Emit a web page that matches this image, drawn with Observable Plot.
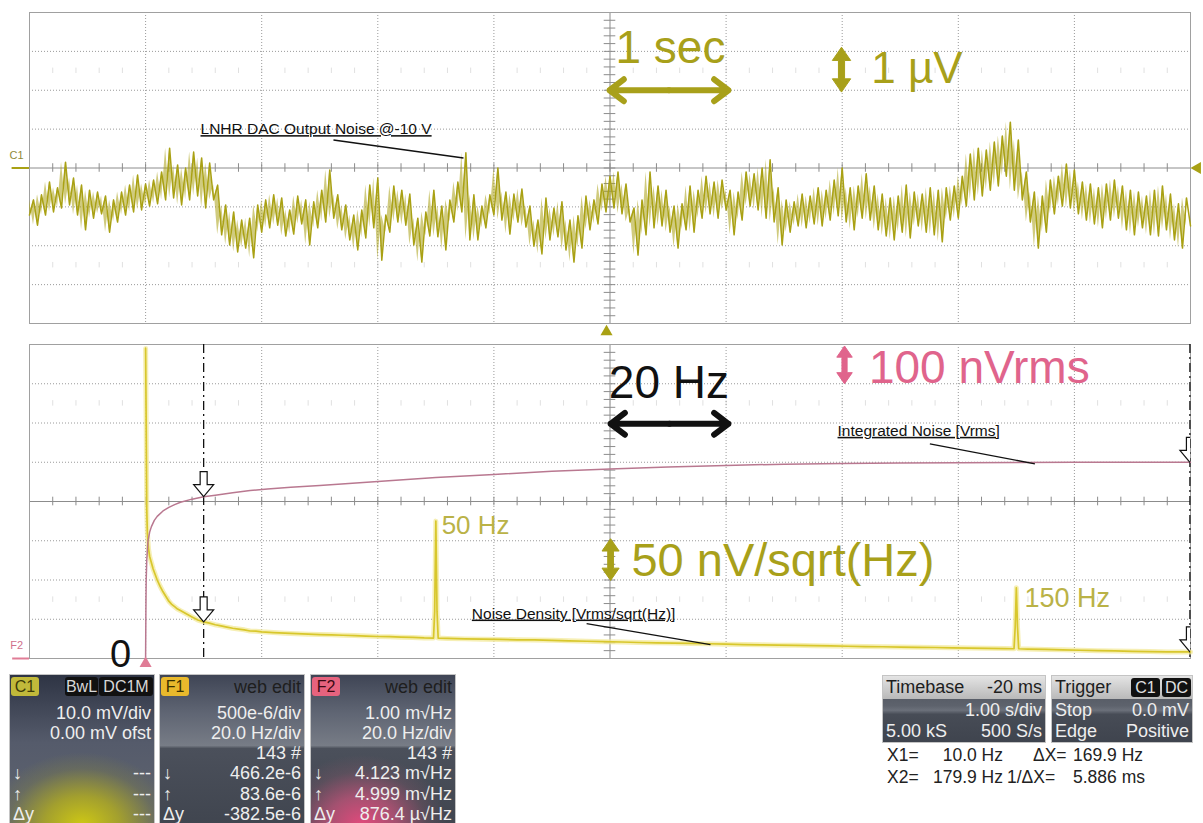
<!DOCTYPE html>
<html><head><meta charset="utf-8">
<script src="https://cdn.jsdelivr.net/npm/d3@7"></script>
<script src="https://cdn.jsdelivr.net/npm/@observablehq/plot@0.6"></script>
<style>
html,body{margin:0;padding:0;background:#fff;}
body{width:1203px;height:823px;position:relative;overflow:hidden;font-family:"Liberation Sans",Arial,sans-serif;}
.pw{position:absolute;left:0;}
.pw svg{overflow:visible;display:block;}
.box{position:absolute;box-sizing:border-box;border:1px solid #c4c4c4;overflow:hidden;color:#eeeeee;font-size:18px;}
.row{position:absolute;left:3px;right:3px;height:20px;line-height:20px;white-space:nowrap;}
.row .l{position:absolute;left:0;top:0;}
.row .r{position:absolute;right:0;top:0;}
.chip{position:absolute;height:19px;line-height:19px;border-radius:3px;text-align:center;font-size:16px;}
.hdr{position:absolute;left:0;right:0;top:0;height:23px;background:linear-gradient(#e4e4e4,#b9b9b9);color:#222;}
.txt{position:absolute;font-size:17.5px;color:#222;white-space:nowrap;line-height:20px;height:20px;}
</style>
</head><body>
<div id="top" class="pw" style="top:0"></div>
<div id="bot" class="pw" style="top:332px"></div>
<div id="boxes"></div>
<script>
// ---------- DATA ----------
// Top trace: LNHR DAC output noise, in µV (1 µV per division), 10 s record
const noiseUV = [
-1.21,-0.82,-1.47,-0.69,-1.21,-0.36,-1.13,-0.51,-1.03,0.15,
-0.95,-0.26,-1.21,-0.44,-1.59,-0.57,-1.29,-0.62,-1.18,-0.72,
-1.65,-0.82,-1.39,-0.62,-1.21,-0.44,-1.13,-0.18,-1.08,-0.41,
-0.98,-0.31,-0.92,-0.10,-0.82,0.51,-0.77,0.08,-0.95,0.00,
-0.82,0.41,-0.72,0.26,-1.03,0.13,-0.82,-0.44,-1.72,-0.95,
-1.98,-1.13,-2.16,-1.34,-2.06,-1.29,-2.31,-0.95,-1.65,-0.82,
-1.54,-0.69,-1.47,-0.77,-1.75,-1.08,-1.70,-0.72,-1.44,-0.82,
-1.98,-0.87,-1.54,-0.57,-1.39,-0.05,-1.29,-0.69,-1.59,-0.95,
-1.85,-1.21,-2.11,-1.08,-1.80,-0.44,-1.54,-0.26,-2.37,-1.21,
-1.65,-0.46,-1.39,-0.57,-1.47,-0.67,-1.98,-1.29,-2.42,-1.13,
-1.75,-0.57,-1.77,-0.98,-2.11,-0.82,-1.39,-0.36,-1.13,0.39,
-1.85,-0.69,-1.85,-0.98,-1.54,-0.69,-1.21,0.00,-1.34,-0.62,
-1.70,-0.67,-1.39,-0.54,-1.52,-0.98,-2.01,-1.34,-2.21,-0.77,
-1.85,-1.03,-1.77,-0.87,-2.11,-1.34,-2.42,-1.23,-2.06,-0.72,
-1.59,-0.82,-1.44,-0.41,-1.13,-0.21,-1.03,-0.10,-1.18,-0.41,
-1.39,-1.03,-2.24,-0.82,-1.72,-0.10,-1.54,-0.46,-1.49,-0.57,
-1.65,-0.98,-2.06,-0.92,-1.59,-0.46,-1.65,-0.57,-1.29,-0.21,
-1.18,-0.36,-1.29,-0.31,-1.08,-0.57,-1.72,-0.62,-1.34,-0.10,
-0.98,-0.15,-1.08,0.00,-1.29,0.21,-1.39,-0.51,-1.98,-0.82,
-1.65,-0.87,-1.49,-0.67,-1.54,-0.72,-1.44,-0.51,-1.49,-0.57,
-1.34,-0.31,-1.23,0.00,-1.39,-0.51,-1.59,-0.46,-1.29,-0.15,
-1.34,-0.46,-1.59,-0.67,-1.75,-0.77,-1.85,-0.72,-1.65,-0.44,
-1.80,-0.62,-1.49,-0.67,-1.65,-0.51,-1.72,-0.57,-1.90,-0.51,
-1.34,-0.46,-1.29,-0.21,-0.98,0.36,-0.82,0.51,-0.72,0.46,
-0.57,0.67,-0.46,0.82,-0.21,1.18,-0.57,0.72,-0.82,-0.10,
-1.39,-0.62,-2.06,-0.72,-1.65,-0.31,-1.18,-0.21,-0.98,0.10,
-1.03,-0.05,-1.18,-0.36,-1.34,-0.41,-1.44,-0.51,-1.54,-0.41,
-1.34,-0.31,-1.29,-0.46,-1.59,-0.57,-1.72,-0.62,-1.54,-0.72,
-1.72,-0.57,-1.75,-0.46,-1.59,-0.67,-1.85,-0.92,-2.06,-0.77,-1.49
];
const recordSeconds = 10;

// Bottom: noise density (nV/sqrt(Hz)) and integrated noise (nVrms) vs frequency (Hz)
const densFreq = [0,0.1,0.2,0.3,0.5,0.7,1,1.3,1.6,2,2.5,3,3.5,4,4.5,5,5.5,6,7,8,9,10,11,12,13,14,15,16,17,18,19,20,22,24,26,28,30,32,34,36,38,40,42,44,46,48,49.6,49.8,50,50.2,50.4,52,55,58,61,64,67,70,73,76,79,82,85,88,91,94,97,100,103,106,109,112,115,118,121,124,127,130,133,136,139,142,145,148,149.6,149.8,150,150.2,150.4,152,155,158,161,164,167,170,173,176,179.9,180];
const densNV = [395,300,190,160,140,130,122,114,108,100,92,85,79,73,69,66,63,61,57,53,49,46.6,45,43,41.5,40,38.5,37.5,36.5,35,34.8,34,33,32.2,31.6,31,30.5,30.2,29.6,29.2,28.6,28,27.8,27.2,26.8,26.2,26,60,175,60,26,25.6,25,24.6,24.3,23.8,23.6,23.2,22.5,22,21.4,21,20.4,20,19.6,19.2,18.8,18.2,17.8,17.4,17,16.8,16.4,16,15.6,15.2,15,14.6,14.2,14,13.6,13.3,13,12.6,12.4,40,90,40,12.4,12,11.6,11,10.5,10,9.6,9.2,8.8,8.4,8.36,8.3];
const intFreq = [0,0.05,0.1,0.2,0.4,0.7,1,1.5,2,3,4,5,6,8,10,12,15,18,21,25,30,35,40,45,50,55,60,70,80,90,100,110,120,130,140,150,160,170,180];
const intNV = [0,120,200,250,298,322,336,352,362,376,385,392,398,406,412.3,416,422,428,432,436,441,446,451,456,461,465,469,477,483,488,492,495,497,498,499,499.5,499.8,499.9,500];
const cursorHz = [10, 179.9];
const cursorIntNV = [412.3, 499.9];
const cursorDensNV = [46.62, 8.36];

// grid / division values
const timeDivs = [0,1,2,3,4,5,6,7,8,9,10];
const uvDivs = [-4,-3,-2,-1,0,1,2,3,4];
const freqDivs = [-20,0,20,40,60,80,100,120,140,160,180];
const botDivs = [0,1,2,3,4,5,6,7,8];

// readout panels
const c1Rows = [["","10.0 mV/div"],["","0.00 mV ofst"],["",""],["↓","---"],["↑","---"],["Δy","---"]];
const f1Rows = [["","500e-6/div"],["","20.0 Hz/div"],["","143 #"],["↓","466.2e-6"],["↑","83.6e-6"],["Δy","-382.5e-6"]];
const f2Rows = [["","1.00 m√Hz"],["","20.0 Hz/div"],["","143 #"],["↓","4.123 m√Hz"],["↑","4.999 m√Hz"],["Δy","876.4 µ√Hz"]];
const timebaseRows = [["Timebase","-20 ms"],["","1.00 s/div"],["5.00 kS","500 S/s"]];
const triggerRows = [["Trigger",""],["Stop","0.0 mV"],["Edge","Positive"]];
const cursorText = [["X1=","10.0 Hz","ΔX=","169.9 Hz"],["X2=","179.9 Hz","1/ΔX=","5.886 ms"]];

// ---------- STYLE ----------
const olive = "#a9a114";
const oliveText = "#a8a01a";
const pink = "#e0648c";
const gridC = "#9a9a9a";
const font = "Liberation Sans, Arial, sans-serif";

function polySymbol(pts){
  return {draw(ctx, size){
    const k = Math.sqrt(size/Math.PI)/10;
    ctx.moveTo(pts[0][0]*k, pts[0][1]*k);
    for (let i=1;i<pts.length;i++) ctx.lineTo(pts[i][0]*k, pts[i][1]*k);
    ctx.closePath();
  }};
}
const dblArrow = polySymbol([[0,-22],[9,-9],[3,-9],[3,9],[9,9],[0,22],[-9,9],[-3,9],[-3,-9],[-9,-9]]);
const downArrow = polySymbol([[0,0],[-10,-12],[-3.5,-12],[-3.5,-25],[3.5,-25],[3.5,-12],[10,-12]]);

function gridMarks(xDivs, yDivs, xc, yc, xStep, yStep, ghostRows){
  const x0 = xDivs[0], x1 = xDivs[xDivs.length-1], y0 = yDivs[0], y1 = yDivs[yDivs.length-1];
  const minorX = d3.range(x0, x1 + 1e-9, xStep);
  const minorY = d3.range(y0, y1 + 1e-9, yStep);
  const dx = (x1-x0)/100*0.5, dy = 0.11;
  return [
    ...ghostRows.map(r => Plot.ruleX(minorX, {x: d=>d, y1: r-0.07, y2: r+0.07, stroke:"#e0e0e0"})),
    Plot.ruleX(xDivs.filter(d => d!==xc && d!==x0 && d!==x1), {x:d=>d, stroke:gridC, strokeDasharray:"1,2"}),
    Plot.ruleY(yDivs.filter(d => d!==yc && d!==y0 && d!==y1), {y:d=>d, stroke:gridC, strokeDasharray:"1,2"}),
    Plot.ruleX([xc], {stroke:"#8c8c8c"}),
    Plot.ruleY([yc], {stroke:"#8c8c8c"}),
    Plot.ruleX(minorX, {x:d=>d, y1: yc-dy, y2: yc+dy, stroke:"#8c8c8c"}),
    Plot.ruleY(minorY, {y:d=>d, x1: xc-dx, x2: xc+dx, stroke:"#8c8c8c"}),
    Plot.frame({stroke:"#a0a0a0"})
  ];
}

const tOf = (d, i) => i*recordSeconds/(noiseUV.length-1);

// ---------- TOP PANEL ----------
const topPlot = Plot.plot({
  width: 1203, height: 335,
  marginLeft: 29, marginRight: 13, marginTop: 12, marginBottom: 12,
  x: {domain: [0, recordSeconds], axis: null},
  y: {domain: [-4, 4], axis: null},
  style: {background: "transparent", fontFamily: font, overflow: "visible"},
  marks: [
    ...gridMarks(timeDivs, uvDivs, 5, 0, 0.2, 0.2, [2.5, -2.5]),
    // dense core of the noise band: fill between successive samples
    Plot.areaY(noiseUV.slice(0, -1), {x: tOf, y1: d=>d, y2: (d,i) => noiseUV[i+1], fill: olive, fillOpacity: 0.55}),
    Plot.line(noiseUV, {x: tOf, y: d=>d, stroke: olive, strokeWidth: 1.5}),
    // annotations
    Plot.text(["LNHR DAC Output Noise @-10 V"], {x: 1.473, y: 1.0, text: d=>d, textAnchor:"start", lineAnchor:"middle", fontSize: 15.5, fill:"#111"}),
    Plot.link([0], {x1: 2.618, y1: 0.72, x2: 3.738, y2: 0.257, stroke:"#111", strokeWidth: 1.3}),
    Plot.text(["1 sec"], {x: 5.047, y: 3.07, text: d=>d, textAnchor:"start", lineAnchor:"middle", fontSize: 46, fill: oliveText}),
    Plot.arrow([0,1], {x1: 5.508, y1: 2.0, x2: (d)=> d===0 ? 4.996 : 6.02, y2: 2.0, bend: 0, stroke: oliveText, strokeWidth: 6, headLength: 4.5, headAngle: 75}),
    Plot.dot([0], {x: 6.994, y: 2.53, symbol: dblArrow, r: 10.2, fill: oliveText, stroke: oliveText, strokeWidth: 1}),
    Plot.text(["1 µV"], {x: 7.25, y: 2.55, text: d=>d, textAnchor:"start", lineAnchor:"middle", fontSize: 44, fill: oliveText}),
    // channel markers
    Plot.text(["C1"], {x: -0.112, y: 0.31, text: d=>d, fontSize: 11, fill: "#8f8a3a"}),
    Plot.ruleY([0], {x1: -0.15, x2: 0, stroke: olive, strokeWidth: 2}),
    Plot.dot([0], {x: 10.06, y: 0, symbol: "triangle", rotate: -90, r: 4.5, fill: olive, stroke: "none"}),
    Plot.dot([0], {x: 4.97, y: -4.21, symbol: "triangle", r: 4.5, fill: olive, stroke: "none"})
  ]
});
document.getElementById("top").appendChild(topPlot);

// ---------- BOTTOM PANEL ----------
const botPlot = Plot.plot({
  width: 1203, height: 338,
  marginLeft: 29, marginRight: 13, marginTop: 12, marginBottom: 12,
  x: {domain: [-20, 180], axis: null},
  y: {domain: [0, 8], axis: null},
  style: {background: "transparent", fontFamily: font, overflow: "visible"},
  marks: [
    ...gridMarks(freqDivs, botDivs, 80, 4, 4, 0.2, [6.5, 1.5]),
    Plot.ruleX(cursorHz, {x: d=>d, stroke:"#111", strokeWidth: 1.3, strokeDasharray: "9,4,2,4"}),
    Plot.line(densNV, {x: (d,i) => densFreq[i], y: d => d/50, stroke: "#f3ea9c", strokeWidth: 5, strokeOpacity: 0.75}),
    Plot.line(densNV, {x: (d,i) => densFreq[i], y: d => d/50, stroke: "#d8c72c", strokeWidth: 1.7}),
    Plot.line(intNV, {x: (d,i) => intFreq[i], y: d => d/100, stroke: "#b97890", strokeWidth: 1.5}),
    Plot.dot(cursorHz, {x: d=>d, y: (d,i) => cursorIntNV[i]/100, symbol: downArrow, r: 10, fill: "white", stroke: "#111", strokeWidth: 1.2, clip: true}),
    Plot.dot(cursorHz, {x: d=>d, y: (d,i) => cursorDensNV[i]/50, symbol: downArrow, r: 10, fill: "white", stroke: "#111", strokeWidth: 1.2, clip: true}),
    // annotations
    Plot.text(["20 Hz"], {x: 79.8, y: 7.0, text: d=>d, textAnchor:"start", lineAnchor:"middle", fontSize: 46, fill:"#111"}),
    Plot.arrow([0,1], {x1: 90.25, y1: 5.98, x2: d => d===0 ? 80.1 : 100.4, y2: 5.98, bend: 0, stroke:"#111", strokeWidth: 6, headLength: 4.5, headAngle: 75}),
    Plot.dot([0], {x: 120.4, y: 7.48, symbol: dblArrow, r: 8.6, fill: pink, stroke: pink, strokeWidth: 1}),
    Plot.text(["100 nVrms"], {x: 124.6, y: 7.39, text: d=>d, textAnchor:"start", lineAnchor:"middle", fontSize: 46, fill: pink}),
    Plot.text(["Integrated Noise [Vrms]"], {x: 119.2, y: 5.80, text: d=>d, textAnchor:"start", lineAnchor:"middle", fontSize: 15.5, fill:"#111"}),
    Plot.link([0], {x1: 135.1, y1: 5.47, x2: 153.2, y2: 4.96, stroke:"#111", strokeWidth: 1.3}),
    Plot.text(["50 Hz"], {x: 51.0, y: 3.38, text: d=>d, textAnchor:"start", lineAnchor:"middle", fontSize: 26, fill:"#bab247"}),
    Plot.text(["150 Hz"], {x: 151.4, y: 1.53, text: d=>d, textAnchor:"start", lineAnchor:"middle", fontSize: 27, fill:"#bab247"}),
    Plot.dot([0], {x: 80.1, y: 2.52, symbol: dblArrow, r: 9.5, fill: oliveText, stroke: oliveText, strokeWidth: 1}),
    Plot.text(["50 nV/sqrt(Hz)"], {x: 83.7, y: 2.49, text: d=>d, textAnchor:"start", lineAnchor:"middle", fontSize: 47, fill: oliveText}),
    Plot.text(["Noise Density [Vrms/sqrt(Hz)]"], {x: 56.2, y: 1.145, text: d=>d, textAnchor:"start", lineAnchor:"middle", fontSize: 15.5, fill:"#111"}),
    Plot.link([0], {x1: 75.97, y1: 0.89, x2: 97.3, y2: 0.356, stroke:"#111", strokeWidth: 1.3}),
    // markers
    Plot.text(["0"], {x: -4.3, y: 0.09, text: d=>d, lineAnchor:"middle", fontSize: 38, fill:"#111"}),
    Plot.dot([0], {x: 0, y: -0.13, symbol: "triangle", r: 4.5, fill: "#e07c96", stroke: "none"}),
    Plot.text(["F2"], {x: -22.2, y: 0.33, text: d=>d, fontSize: 11, fill: "#d0708c"}),
    Plot.ruleY([0], {x1: -22.9, x2: -20, stroke: "#e07c96", strokeWidth: 2})
  ]
});
document.getElementById("bot").appendChild(botPlot);

const underlined = ["LNHR DAC Output Noise @-10 V", "Integrated Noise [Vrms]", "Noise Density [Vrms/sqrt(Hz)]"];
for (const svg of [topPlot, botPlot]) {
  svg.querySelectorAll("text").forEach(t => {
    if (underlined.includes(t.textContent)) t.style.textDecoration = "underline";
  });
}

// ---------- READOUT PANELS ----------
const boxes = document.getElementById("boxes");
function el(tag, cls, style, text){
  const e = document.createElement(tag);
  if (cls) e.className = cls;
  if (style) e.setAttribute("style", style);
  if (text != null) e.textContent = text;
  return e;
}
const rowTops = [28, 48, 68, 88, 109, 129];
function channelBox(left, bg, chips, headRight, rows){
  const b = el("div", "box", `left:${left}px;top:674px;width:146px;height:152px;background:${bg};`);
  chips.forEach(c => b.appendChild(el("div", "chip", `left:${c.l}px;top:2px;width:${c.w}px;background:${c.bg};color:${c.c};`, c.t)));
  if (headRight) b.appendChild(el("div", "row", "top:2px;color:#1e1e1e;", null)).appendChild(el("span","r",null,headRight));
  rows.forEach((r, i) => {
    const row = el("div", "row", `top:${rowTops[i]}px;`);
    row.appendChild(el("span", "l", null, r[0]));
    row.appendChild(el("span", "r", null, r[1]));
    b.appendChild(row);
  });
  boxes.appendChild(b);
}
channelBox(9,
  "radial-gradient(ellipse 75% 55% at 50% 100%, rgba(206,200,20,1) 0%, rgba(175,170,35,0.85) 35%, rgba(130,130,70,0.35) 68%, rgba(0,0,0,0) 88%), linear-gradient(#2e3444 0%, #555b6b 45%, #60656f 100%)",
  [{l:1,w:28,bg:"#c1b93a",c:"#3c3a08",t:"C1"},{l:55,w:33,bg:"#111",c:"#d8d8d8",t:"BwL"},{l:89,w:54,bg:"#111",c:"#d8d8d8",t:"DC1M"}],
  null, c1Rows);
channelBox(159,
  "linear-gradient(#3f4555 0%, #5f6573 25%, #777c86 47%, #4b505b 49%, #40454f 100%)",
  [{l:1,w:28,bg:"#e9b92c",c:"#3a3000",t:"F1"}],
  "web edit", f1Rows);
channelBox(310,
  "radial-gradient(ellipse 70% 55% at 35% 100%, rgba(226,74,124,1) 0%, rgba(205,85,125,0.7) 35%, rgba(150,90,110,0.25) 65%, rgba(0,0,0,0) 85%), linear-gradient(#3f4555 0%, #5f6573 25%, #777c86 47%, #4b505b 49%, #40454f 100%)",
  [{l:1,w:28,bg:"#e6637e",c:"#3a0a14",t:"F2"}],
  "web edit", f2Rows);

function stateBox(left, width, rows, chips){
  const b = el("div", "box", `left:${left}px;top:675px;width:${width}px;height:68px;background:linear-gradient(#4b505a 0%, #5d626c 45%, #6b707a 52%, #474c56 58%, #3f444e 100%);`);
  const h = el("div", "hdr");
  const hr = el("div", "row", "top:1px;color:#1e1e1e;");
  hr.appendChild(el("span","l",null,rows[0][0]));
  hr.appendChild(el("span","r",null,rows[0][1]));
  h.appendChild(hr);
  b.appendChild(h);
  (chips||[]).forEach(c => b.appendChild(el("div", "chip", `left:${c.l}px;top:2px;width:${c.w}px;background:#111;color:#e0e0e0;`, c.t)));
  [24, 45].forEach((top, i) => {
    const row = el("div", "row", `top:${top}px;`);
    row.appendChild(el("span","l",null,rows[i+1][0]));
    row.appendChild(el("span","r",null,rows[i+1][1]));
    b.appendChild(row);
  });
  boxes.appendChild(b);
}
stateBox(882, 164, timebaseRows);
stateBox(1051, 142, triggerRows, [{l:79,w:29,t:"C1"},{l:110,w:29,t:"DC"}]);

cursorText.forEach((r, i) => {
  const top = 745 + i*22;
  boxes.appendChild(el("div", "txt", `left:887px;top:${top}px;`, r[0]));
  boxes.appendChild(el("div", "txt", `left:903px;width:100px;text-align:right;top:${top}px;`, r[1]));
  boxes.appendChild(el("div", "txt", `left:${i===0?1033:1007}px;top:${top}px;`, r[2]));
  boxes.appendChild(el("div", "txt", `left:1073px;top:${top}px;`, r[3]));
});
</script>
</body></html>
